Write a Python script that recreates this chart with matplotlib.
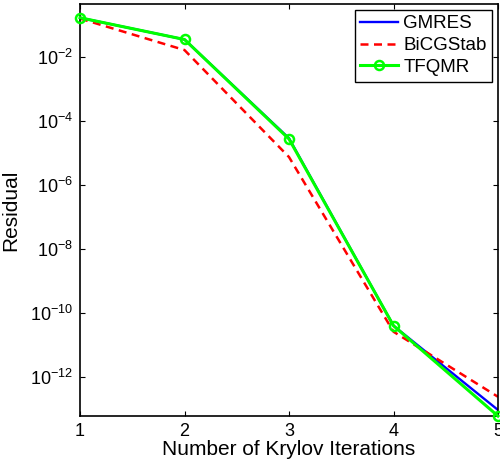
import math

import matplotlib
matplotlib.use("Agg")
import matplotlib.pyplot as plt
from matplotlib.ticker import FixedLocator, FuncFormatter, NullLocator

plt.rcParams["font.family"] = ["Liberation Sans", "DejaVu Sans"]
plt.rcParams["mathtext.fontset"] = "custom"
plt.rcParams["mathtext.rm"] = "Liberation Sans"
plt.rcParams["mathtext.it"] = "Liberation Sans:italic"
plt.rcParams["font.size"] = 13

iterations = [1, 2, 3, 4, 5]
gmres = [0.17, 0.0355, 2.9e-5, 4.0e-11, 9.3e-14]
bicgstab = [0.16, 0.0166, 7.5e-6, 2.6e-11, 2.4e-13]
tfqmr = [0.17, 0.0355, 2.75e-5, 4.0e-11, 6.0e-14]
ytick_exps = [-12, -10, -8, -6, -4, -2]


def main():
    fig = plt.figure(figsize=(5.0, 4.65), dpi=100)
    ax = fig.add_axes([0.16, 0.1054, 0.836, 0.886])

    ax.semilogy(iterations, gmres, color="#0000ff", lw=1.7, label="GMRES")
    ax.semilogy(iterations, bicgstab, color="#ff0000", lw=1.8, ls=(0, (3.2, 2.2)), label="BiCGStab")
    ax.semilogy(iterations, tfqmr, color="#00ff00", lw=2.2, marker="o", ms=6.5,
                mfc="none", mew=1.8, label="TFQMR", clip_on=False, zorder=3)

    ax.set_xlim(1, 5)
    ax.set_ylim(10 ** -13.22, 10 ** -0.34)
    ax.set_xticks(iterations)
    ax.yaxis.set_major_locator(FixedLocator([10.0 ** e for e in ytick_exps]))
    ax.yaxis.set_minor_locator(NullLocator())
    ax.yaxis.set_major_formatter(FuncFormatter(
        lambda v, p: r"$\mathregular{10^{%d}}$" % round(math.log10(v))))

    ax.tick_params(direction="in", length=3.5, width=0.8, top=True, right=True, pad=5)
    for s in ax.spines.values():
        s.set_linewidth(1.2)

    ax.set_xlabel("Number of Krylov Iterations", fontsize=15, labelpad=0)
    ax.set_ylabel("Residual", fontsize=15)
    ax.yaxis.set_label_coords(-0.143, 0.5)

    leg = ax.legend(loc="upper right", fancybox=False, framealpha=1, edgecolor="black",
                    borderaxespad=0.3, handlelength=2.0, handletextpad=0.3,
                    labelspacing=0.25, borderpad=0.3, fontsize=13.5)
    leg.get_frame().set_linewidth(1.0)

    fig.savefig("out.png", dpi=100)


if __name__ == "__main__":
    main()
